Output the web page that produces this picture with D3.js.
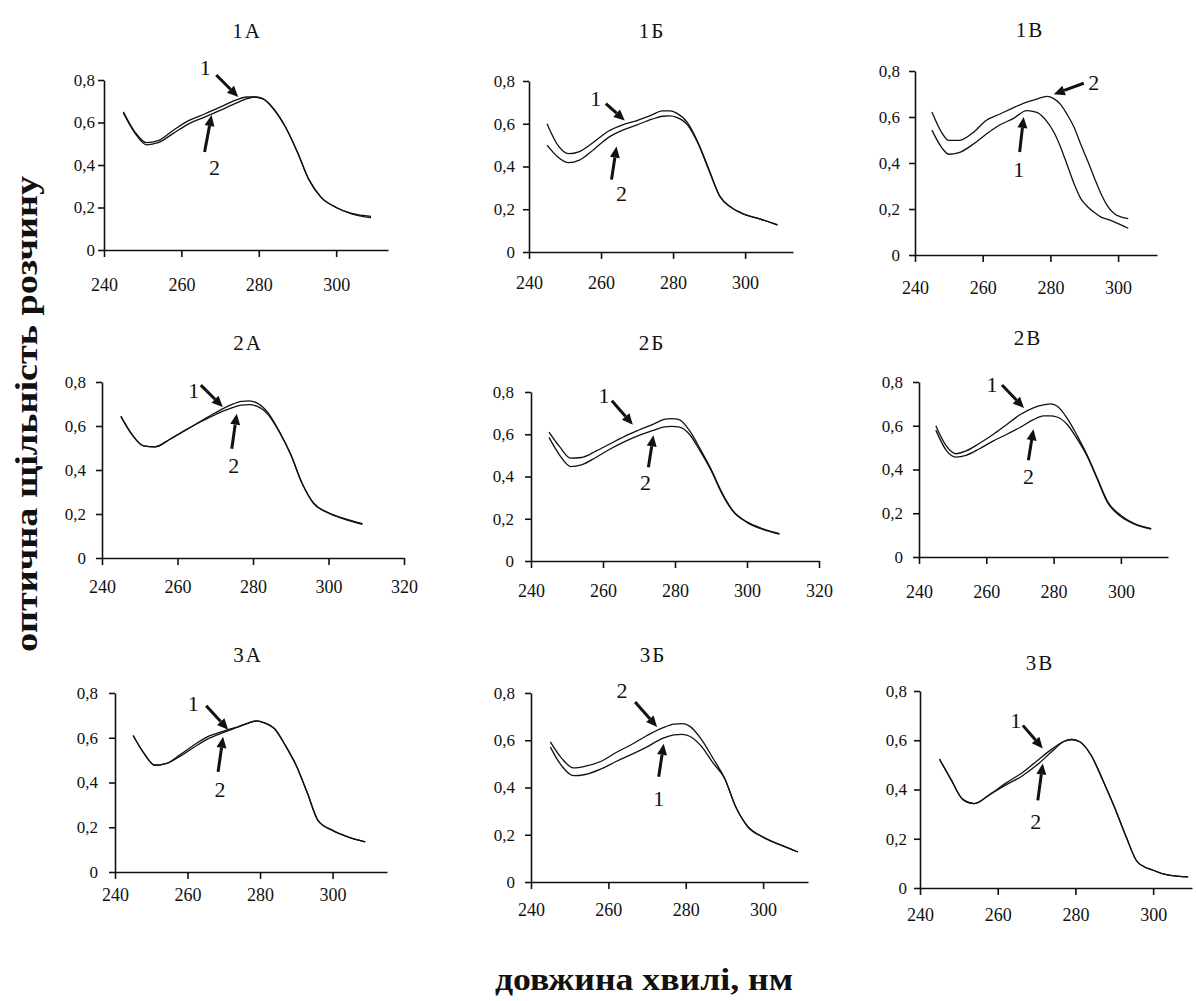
<!DOCTYPE html>
<html>
<head>
<meta charset="utf-8">
<script src="https://cdn.jsdelivr.net/npm/d3@7"></script>
<style>
  body { margin: 0; background: #fff; }
  text { font-family: "Liberation Serif", "Times New Roman", serif; fill: #111; }
</style>
</head>
<body>
<svg id="chart" width="1196" height="1001"></svg>
<script>
// wavelength grids, nm
const wl = [245, 248, 251, 254, 258, 262, 266, 270, 274, 277, 279, 281, 284, 287, 290, 293, 296, 300, 304, 309]
const wl1V = [245, 248, 250, 253, 257, 261, 265, 269, 273, 276, 279, 281, 283, 285, 287, 289, 291, 293, 295, 297, 299, 301, 303]

// optical density, curve 1 and curve 2 of every panel
const od1A_1 = [0.65, 0.555, 0.505, 0.515, 0.565, 0.61, 0.64, 0.672, 0.705, 0.72, 0.72, 0.712, 0.66, 0.575, 0.46, 0.33, 0.25, 0.2, 0.172, 0.158]
const od1A_2 = [0.645, 0.55, 0.495, 0.505, 0.55, 0.595, 0.625, 0.657, 0.69, 0.712, 0.72, 0.712, 0.66, 0.575, 0.46, 0.33, 0.25, 0.2, 0.17, 0.152]
const od1B_1 = [0.6, 0.5, 0.46, 0.47, 0.515, 0.565, 0.595, 0.615, 0.64, 0.66, 0.66, 0.65, 0.605, 0.51, 0.385, 0.26, 0.21, 0.175, 0.155, 0.128]
const od1B_2 = [0.5, 0.445, 0.418, 0.43, 0.48, 0.535, 0.57, 0.595, 0.62, 0.635, 0.637, 0.63, 0.595, 0.505, 0.38, 0.26, 0.21, 0.175, 0.155, 0.126]
const od1V_1 = [0.543, 0.465, 0.438, 0.445, 0.48, 0.525, 0.565, 0.593, 0.628, 0.62, 0.58, 0.535, 0.47, 0.39, 0.31, 0.245, 0.21, 0.185, 0.165, 0.155, 0.143, 0.13, 0.116]
const od1V_2 = [0.622, 0.53, 0.498, 0.498, 0.53, 0.585, 0.612, 0.64, 0.665, 0.678, 0.69, 0.68, 0.655, 0.61, 0.555, 0.48, 0.41, 0.335, 0.265, 0.21, 0.178, 0.165, 0.158]
const od2A_1 = [0.644, 0.56, 0.51, 0.505, 0.54, 0.58, 0.62, 0.66, 0.695, 0.712, 0.714, 0.705, 0.66, 0.575, 0.47, 0.34, 0.25, 0.205, 0.18, 0.156]
const od2A_2 = [0.644, 0.56, 0.51, 0.505, 0.54, 0.58, 0.618, 0.652, 0.68, 0.695, 0.697, 0.69, 0.652, 0.572, 0.47, 0.34, 0.25, 0.205, 0.178, 0.153]
const od2B_1 = [0.61, 0.54, 0.487, 0.49, 0.52, 0.555, 0.59, 0.62, 0.648, 0.67, 0.674, 0.67, 0.618, 0.53, 0.435, 0.325, 0.24, 0.185, 0.155, 0.13]
const od2B_2 = [0.585, 0.5, 0.447, 0.455, 0.49, 0.53, 0.565, 0.595, 0.618, 0.635, 0.637, 0.635, 0.6, 0.52, 0.43, 0.32, 0.238, 0.183, 0.152, 0.127]
const od2V_1 = [0.6, 0.51, 0.472, 0.485, 0.52, 0.56, 0.605, 0.65, 0.682, 0.695, 0.7, 0.69, 0.635, 0.555, 0.465, 0.36, 0.255, 0.19, 0.153, 0.13]
const od2V_2 = [0.58, 0.49, 0.457, 0.465, 0.495, 0.53, 0.56, 0.592, 0.628, 0.645, 0.645, 0.64, 0.607, 0.54, 0.46, 0.355, 0.25, 0.185, 0.15, 0.128]
const od3A_1 = [0.61, 0.53, 0.477, 0.484, 0.525, 0.57, 0.608, 0.63, 0.65, 0.667, 0.675, 0.668, 0.64, 0.565, 0.475, 0.355, 0.23, 0.186, 0.158, 0.135]
const od3A_2 = [0.61, 0.53, 0.477, 0.484, 0.518, 0.56, 0.598, 0.624, 0.648, 0.667, 0.675, 0.668, 0.64, 0.565, 0.475, 0.355, 0.23, 0.186, 0.158, 0.135]
const od3B_1 = [0.571, 0.49, 0.45, 0.455, 0.478, 0.51, 0.54, 0.572, 0.608, 0.623, 0.625, 0.617, 0.575, 0.505, 0.44, 0.315, 0.235, 0.19, 0.16, 0.127]
const od3B_2 = [0.593, 0.522, 0.483, 0.49, 0.51, 0.548, 0.582, 0.62, 0.652, 0.668, 0.67, 0.66, 0.605, 0.525, 0.44, 0.315, 0.235, 0.19, 0.16, 0.127]
const od3V_1 = [0.524, 0.44, 0.36, 0.343, 0.38, 0.425, 0.465, 0.515, 0.565, 0.595, 0.603, 0.595, 0.54, 0.44, 0.33, 0.21, 0.105, 0.072, 0.052, 0.045]
const od3V_2 = [0.524, 0.44, 0.36, 0.343, 0.38, 0.418, 0.452, 0.498, 0.555, 0.595, 0.603, 0.595, 0.54, 0.44, 0.33, 0.21, 0.105, 0.072, 0.052, 0.045]

const titles = ['1А', '1Б', '1В', '2А', '2Б', '2В', '3А', '3Б', '3В']
const yTicks = [0, 0.2, 0.4, 0.6, 0.8]
const xTicksShort = [240, 260, 280, 300]
const xTicksLong = [240, 260, 280, 300, 320]
const yTitle = 'оптична щільність розчину'
const xTitle = 'довжина хвилі, нм'

// arrow notes: label, tip in data units (nm, OD)
const notes = [
  [{ t: '1', x: 274.7, y: 0.72 }, { t: '2', x: 267.8, y: 0.635 }],
  [{ t: '1', x: 266.6, y: 0.615 }, { t: '2', x: 264.3, y: 0.493 }],
  [{ t: '2', x: 281, y: 0.699 }, { t: '1', x: 272.1, y: 0.6 }],
  [{ t: '1', x: 272, y: 0.686 }, { t: '2', x: 275.7, y: 0.656 }],
  [{ t: '1', x: 268.3, y: 0.645 }, { t: '2', x: 274, y: 0.595 }],
  [{ t: '1', x: 271.2, y: 0.681 }, { t: '2', x: 274, y: 0.584 }],
  [{ t: '1', x: 271.2, y: 0.636 }, { t: '2', x: 269.8, y: 0.604 }],
  [{ t: '2', x: 272.6, y: 0.656 }, { t: '1', x: 274.3, y: 0.585 }],
  [{ t: '1', x: 271.6, y: 0.567 }, { t: '2', x: 271.6, y: 0.506 }]
]

const series = [
  [wl, od1A_1, od1A_2], [wl, od1B_1, od1B_2], [wl1V, od1V_1, od1V_2],
  [wl, od2A_1, od2A_2], [wl, od2B_1, od2B_2], [wl, od2V_1, od2V_2],
  [wl, od3A_1, od3A_2], [wl, od3B_1, od3B_2], [wl, od3V_1, od3V_2]
]

// panel geometry (pixels): x of 240 nm, x of axis end, last nm on axis, top (0.8) and bottom (0)
const layout = [
  { x0: 104, x1: 388, xMax: 313.4, top: 80, bot: 250, tx: 247, ty: 38, xg: 35, yg: 9 },
  { x0: 529, x1: 793, xMax: 313.3, top: 81, bot: 252, tx: 652, ty: 38, xg: 31, yg: 14 },
  { x0: 915, x1: 1157, xMax: 311.5, top: 71, bot: 255, tx: 1030, ty: 37, xg: 33, yg: 15 },
  { x0: 102, x1: 404, xMax: 320, top: 382, bot: 558, tx: 248, ty: 350, xg: 29, yg: 16 },
  { x0: 531, x1: 819, xMax: 320, top: 392, bot: 561, tx: 652, ty: 350, xg: 30, yg: 17 },
  { x0: 919, x1: 1168, xMax: 314, top: 382, bot: 557, tx: 1028, ty: 345, xg: 35, yg: 16 },
  { x0: 115, x1: 387, xMax: 315, top: 693, bot: 872, tx: 248, ty: 662, xg: 23, yg: 17 },
  { x0: 531, x1: 808, xMax: 311.6, top: 693, bot: 882, tx: 653, ty: 662, xg: 28, yg: 16 },
  { x0: 920, x1: 1192, xMax: 310, top: 691, bot: 888, tx: 1040, ty: 670, xg: 27, yg: 13 }
]

// pixel offsets of arrow tail and label from the tip
const noteOffsets = [
  [{ tail: [-22, -22], lab: [-33, -30] }, { tail: [-7, 37], lab: [3, 52] }],
  [{ tail: [-19, -17], lab: [-29, -22] }, { tail: [-5, 33], lab: [5, 47] }],
  [{ tail: [30, -11], lab: [40, -12] }, { tail: [-4, 35], lab: [-5, 52] }],
  [{ tail: [-22, -22], lab: [-29, -17] }, { tail: [-5, 35], lab: [-3, 52] }],
  [{ tail: [-21, -24], lab: [-29, -29] }, { tail: [-5, 32], lab: [-8, 47] }],
  [{ tail: [-22, -23], lab: [-32, -24] }, { tail: [-5, 31], lab: [-5, 47] }],
  [{ tail: [-22, -24], lab: [-35, -26] }, { tail: [-5, 35], lab: [-3, 52] }],
  [{ tail: [-22, -25], lab: [-35, -37] }, { tail: [-5, 33], lab: [-5, 55] }],
  [{ tail: [-20, -23], lab: [-27, -28] }, { tail: [-5, 37], lab: [-7, 58] }]
]

const fmtY = d => d === 0 ? '0' : d3.format('.1f')(d).replace('.', ',')

const svg = d3.select('#chart')

function drawArrow(g, tx, ty, sx, sy) {
  let a = Math.atan2(ty - sy, tx - sx),
    head = 11, half = 5
  let bx = tx - head * Math.cos(a), by = ty - head * Math.sin(a)
  g.append('line')
    .attr('x1', sx).attr('y1', sy).attr('x2', bx).attr('y2', by)
    .attr('stroke', '#111').attr('stroke-width', 3)
  g.append('path')
    .attr('d', `M${tx},${ty}L${bx - half * Math.sin(a)},${by + half * Math.cos(a)}L${bx + half * Math.sin(a)},${by - half * Math.cos(a)}Z`)
    .attr('fill', '#111')
}

layout.forEach((p, i) => {
  let g = svg.append('g').attr('class', 'panel')
  let x = d3.scaleLinear().domain([240, p.xMax]).range([p.x0, p.x1])
  let y = d3.scaleLinear().domain([0, 0.8]).range([p.bot, p.top])

  let xa = g.append('g')
    .attr('transform', `translate(0,${p.bot})`)
    .call(d3.axisBottom(x).tickValues(p.xMax >= 320 ? xTicksLong : xTicksShort).tickSize(7).tickSizeOuter(0))
  xa.selectAll('text').attr('y', p.xg).attr('dy', '0.35em')
    .style('font-size', '18px').style('font-family', '"Liberation Serif", serif')

  let ya = g.append('g')
    .attr('transform', `translate(${p.x0},0)`)
    .call(d3.axisLeft(y).tickValues(yTicks).tickFormat(fmtY).tickSize(6).tickSizeOuter(0))
  ya.selectAll('text').attr('x', -p.yg)
    .style('font-size', '17px').style('font-family', '"Liberation Serif", serif')

  g.selectAll('.domain, .tick line').attr('stroke', '#111').attr('stroke-width', 1.6)

  g.append('text')
    .attr('x', p.tx).attr('y', p.ty)
    .attr('text-anchor', 'middle')
    .attr('font-size', 21)
    .attr('letter-spacing', 2)
    .text(titles[i])

  let [w, s1, s2] = series[i]
  let line = d3.line().x(d => x(d[0])).y(d => y(d[1])).curve(d3.curveMonotoneX)
  g.selectAll('path.curve')
    .data([d3.zip(w, s1), d3.zip(w, s2)])
    .enter().append('path')
      .attr('class', 'curve')
      .attr('d', line)
      .attr('fill', 'none')
      .attr('stroke', '#111')
      .attr('stroke-width', 1.3)

  notes[i].forEach((n, k) => {
    let off = noteOffsets[i][k]
    let tx = x(n.x), ty = y(n.y)
    drawArrow(g, tx, ty, tx + off.tail[0], ty + off.tail[1])
    g.append('text')
      .attr('x', tx + off.lab[0]).attr('y', ty + off.lab[1])
      .attr('dy', '0.35em')
      .attr('text-anchor', 'middle')
      .attr('font-size', 22)
      .text(n.t)
  })
})

svg.append('text')
  .attr('transform', 'translate(37,414) rotate(-90)')
  .attr('text-anchor', 'middle')
  .attr('font-size', 32)
  .attr('font-weight', 'bold')
  .attr('textLength', 476)
  .attr('lengthAdjust', 'spacingAndGlyphs')
  .text(yTitle)

svg.append('text')
  .attr('x', 644).attr('y', 990)
  .attr('text-anchor', 'middle')
  .attr('font-size', 32)
  .attr('font-weight', 'bold')
  .attr('textLength', 298)
  .attr('lengthAdjust', 'spacingAndGlyphs')
  .text(xTitle)
</script>
</body>
</html>
